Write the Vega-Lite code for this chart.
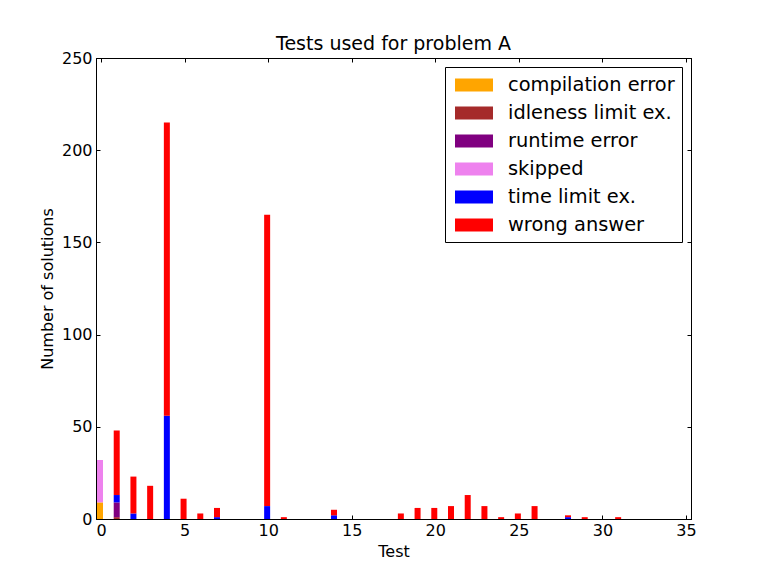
{
  "$schema": "https://vega.github.io/schema/vega-lite/v6.json",
  "width": 595,
  "height": 461,
  "autosize": "none",
  "padding": {"left": 96, "top": 58, "right": 77, "bottom": 57},
  "background": "white",
  "config": {
    "font": "DejaVu Sans",
    "view": {"stroke": "black", "strokeWidth": 1},
    "axis": {
      "grid": false,
      "domainColor": "black",
      "tickColor": "black",
      "labelColor": "black",
      "titleColor": "black",
      "labelFontSize": 16,
      "titleFontSize": 16,
      "titleFontWeight": "normal",
      "tickSize": -4,
      "labelFont": "DejaVu Sans",
      "titleFont": "DejaVu Sans"
    }
  },
  "title": {
    "text": "Tests used for problem A",
    "fontSize": 19,
    "fontWeight": "normal",
    "font": "DejaVu Sans",
    "color": "black",
    "offset": -4
  },
  "data": {
    "values": [
      {"test": 0, "result": "compilation error", "count": 9},
      {"test": 0, "result": "skipped", "count": 23},
      {"test": 1, "result": "idleness limit ex.", "count": 1},
      {"test": 1, "result": "runtime error", "count": 8},
      {"test": 1, "result": "time limit ex.", "count": 4},
      {"test": 1, "result": "wrong answer", "count": 35},
      {"test": 2, "result": "time limit ex.", "count": 3},
      {"test": 2, "result": "wrong answer", "count": 20},
      {"test": 3, "result": "wrong answer", "count": 18},
      {"test": 4, "result": "time limit ex.", "count": 56},
      {"test": 4, "result": "wrong answer", "count": 159},
      {"test": 5, "result": "wrong answer", "count": 11},
      {"test": 6, "result": "wrong answer", "count": 3},
      {"test": 7, "result": "time limit ex.", "count": 1},
      {"test": 7, "result": "wrong answer", "count": 5},
      {"test": 10, "result": "time limit ex.", "count": 7},
      {"test": 10, "result": "wrong answer", "count": 158},
      {"test": 11, "result": "wrong answer", "count": 1},
      {"test": 14, "result": "time limit ex.", "count": 2},
      {"test": 14, "result": "wrong answer", "count": 3},
      {"test": 18, "result": "wrong answer", "count": 3},
      {"test": 19, "result": "wrong answer", "count": 6},
      {"test": 20, "result": "wrong answer", "count": 6},
      {"test": 21, "result": "wrong answer", "count": 7},
      {"test": 22, "result": "wrong answer", "count": 13},
      {"test": 23, "result": "wrong answer", "count": 7},
      {"test": 24, "result": "wrong answer", "count": 1},
      {"test": 25, "result": "wrong answer", "count": 3},
      {"test": 26, "result": "wrong answer", "count": 7},
      {"test": 28, "result": "time limit ex.", "count": 1},
      {"test": 28, "result": "wrong answer", "count": 1},
      {"test": 29, "result": "wrong answer", "count": 1},
      {"test": 31, "result": "wrong answer", "count": 1}
    ]
  },
  "layer": [
    {
      "mark": {"type": "bar", "size": 6, "xOffset": -1},
      "encoding": {
        "x": {
          "field": "test",
          "type": "quantitative",
          "scale": {"domain": [0, 35], "nice": false},
          "axis": {"title": "Test", "values": [0, 5, 10, 15, 20, 25, 30, 35], "labelPadding": 7, "titlePadding": 5, "labelFlush": false}
        },
        "y": {
          "field": "count",
          "type": "quantitative",
          "stack": "zero",
          "scale": {"domain": [0, 250], "nice": false},
          "axis": {"title": "Number of solutions", "values": [0, 50, 100, 150, 200, 250], "labelPadding": 8, "titlePadding": 6, "labelFlush": false}
        },
        "color": {
          "field": "result",
          "type": "nominal",
          "scale": {
            "domain": ["compilation error", "idleness limit ex.", "runtime error", "skipped", "time limit ex.", "wrong answer"],
            "range": ["#FFA500", "#A52A2A", "#800080", "#EE82EE", "#0000FF", "#FF0000"]
          },
          "legend": {
            "title": null,
            "orient": "top-right",
            "offset": 9,
            "strokeColor": "black",
            "fillColor": "white",
            "padding": 7,
            "labelFontSize": 19.4,
            "labelFont": "DejaVu Sans",
            "labelColor": "black",
            "symbolType": "M-0.727,-0.59L2.727,-0.59L2.727,0.59L-0.727,0.59Z",
            "symbolSize": 484,
            "symbolStrokeWidth": 0,
            "symbolOpacity": 1,
            "labelOffset": 34,
            "rowPadding": 7,
            "labelLimit": 400
          }
        },
        "order": {"field": "result", "sort": "ascending"}
      }
    },
    {
      "mark": {"type": "bar", "opacity": 0},
      "encoding": {
        "x": {
          "field": "test",
          "type": "quantitative",
          "axis": {"orient": "top", "title": null, "labels": false, "values": [0, 5, 10, 15, 20, 25, 30, 35]}
        },
        "y": {
          "field": "count",
          "type": "quantitative",
          "axis": {"orient": "right", "title": null, "labels": false, "values": [0, 50, 100, 150, 200, 250]}
        }
      }
    }
  ],
  "resolve": {"axis": {"x": "independent", "y": "independent"}}
}
